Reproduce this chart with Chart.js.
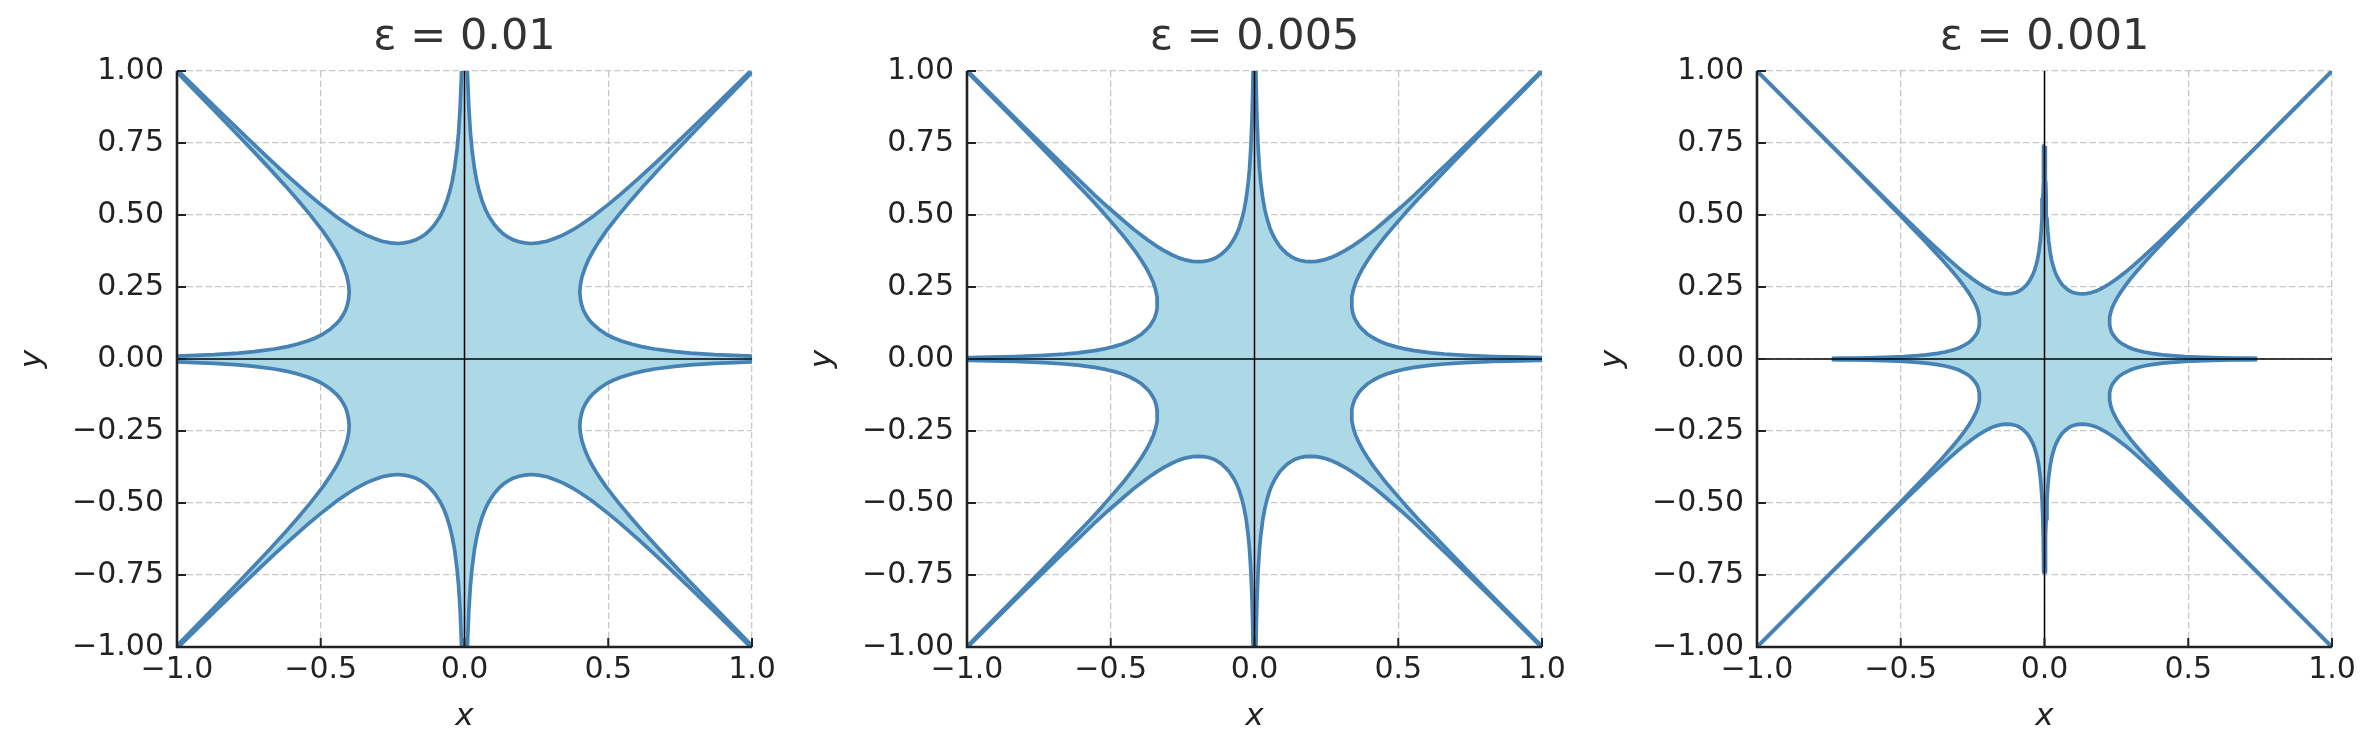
<!DOCTYPE html>
<html><head><meta charset="utf-8">
<script src="https://cdn.jsdelivr.net/npm/chart.js@4.4.1/dist/chart.umd.min.js"></script>
<style>
html,body{margin:0;padding:0;background:#fff;width:2379px;height:754px;overflow:hidden;}
canvas{position:absolute;top:0;}
</style></head><body>
<canvas id="c1" width="790" height="754" style="left:0px"></canvas>
<canvas id="c2" width="790" height="754" style="left:790px"></canvas>
<canvas id="c3" width="790" height="754" style="left:1580px"></canvas>
<script>
// ---- data ----
const panelTitles = ['ε = 0.01', 'ε = 0.005', 'ε = 0.001'];
const xTickValues = [-1, -0.5, 0, 0.5, 1];
const xTickLabels = ['−1.0', '−0.5', '0.0', '0.5', '1.0'];
const yTickValues = [-1, -0.75, -0.5, -0.25, 0, 0.25, 0.5, 0.75, 1];
const yTickLabels = ['−1.00', '−0.75', '−0.50', '−0.25', '0.00', '0.25', '0.50', '0.75', '1.00'];

// one boundary branch per panel (first octant lobe, from the x-axis arm to the diagonal arm);
// the other seven branches are its mirror images in the picture.
const eps010X = [1.000, 0.870, 0.786, 0.732, 0.661, 0.616, 0.583, 0.546, 0.519, 0.492, 0.467, 0.448, 0.433, 0.422, 0.413, 0.407, 0.403, 0.401, 0.403, 0.409, 0.419, 0.430, 0.448, 0.466, 0.492, 0.536, 0.571, 0.626, 0.681, 0.738, 0.805, 0.874, 0.991, 1.000];
const eps010Y = [0.0100, 0.0152, 0.0206, 0.0256, 0.0347, 0.0431, 0.0510, 0.0622, 0.0729, 0.0867, 0.1035, 0.1200, 0.1366, 0.1535, 0.1711, 0.1897, 0.2097, 0.2318, 0.2569, 0.2865, 0.3155, 0.3421, 0.3759, 0.4049, 0.4432, 0.4994, 0.5414, 0.6045, 0.6645, 0.7252, 0.7950, 0.8662, 0.9860, 0.9950];

const eps005X = [1.000, 0.989, 0.920, 0.831, 0.732, 0.661, 0.615, 0.556, 0.518, 0.490, 0.459, 0.436, 0.414, 0.392, 0.377, 0.364, 0.355, 0.347, 0.342, 0.339, 0.338, 0.339, 0.344, 0.352, 0.362, 0.377, 0.392, 0.414, 0.450, 0.480, 0.526, 0.572, 0.621, 0.677, 0.735, 0.833, 0.922, 1.000];
const eps005Y = [0.0050, 0.0052, 0.0064, 0.0087, 0.0128, 0.0173, 0.0215, 0.0291, 0.0362, 0.0429, 0.0523, 0.0613, 0.0729, 0.0870, 0.1009, 0.1149, 0.1291, 0.1439, 0.1595, 0.1764, 0.1949, 0.2160, 0.2409, 0.2653, 0.2877, 0.3161, 0.3405, 0.3727, 0.4199, 0.4553, 0.5083, 0.5588, 0.6098, 0.6685, 0.7284, 0.8291, 0.9183, 0.9975];

const eps001X = [0.740, 0.714, 0.661, 0.615, 0.556, 0.489, 0.442, 0.411, 0.372, 0.346, 0.328, 0.307, 0.292, 0.277, 0.262, 0.252, 0.244, 0.237, 0.232, 0.229, 0.227, 0.226, 0.227, 0.230, 0.235, 0.242, 0.252, 0.262, 0.277, 0.301, 0.321, 0.352, 0.383, 0.415, 0.453, 0.491, 0.557, 0.616, 0.673, 0.732, 0.832, 0.920, 1.000];
const eps001Y = [0.0025, 0.0027, 0.0035, 0.0043, 0.0058, 0.0085, 0.0116, 0.0144, 0.0195, 0.0242, 0.0287, 0.0350, 0.0410, 0.0488, 0.0582, 0.0675, 0.0768, 0.0863, 0.0962, 0.1067, 0.1179, 0.1303, 0.1444, 0.1611, 0.1774, 0.1924, 0.2114, 0.2277, 0.2492, 0.2808, 0.3045, 0.3399, 0.3737, 0.4078, 0.4471, 0.4871, 0.5544, 0.6141, 0.6718, 0.7310, 0.8308, 0.9196, 0.9995];

const panelBranchX = [eps010X, eps005X, eps001X];
const panelBranchY = [eps010Y, eps005Y, eps001Y];

// ---- styling ----
const LINE = '#4682b4';
const FILL = '#add8e6';
const TEXT = '#222222';
Chart.defaults.font.family = 'DejaVu Sans';

function rotate(p, k) {
  let x = p.x, y = p.y;
  for (let i = 0; i < k; i++) { const t = x; x = -y; y = t; }
  return {x, y};
}

function buildBranches(bx, by) {
  const a = bx.map((x, i) => ({x, y: by[i]}));
  const b = a.slice().reverse().map(p => ({x: p.y, y: p.x}));
  const branches = [];
  for (let k = 0; k < 4; k++) {
    branches.push(a.map(p => rotate(p, k)));
    branches.push(b.map(p => rotate(p, k)));
  }
  return branches;
}

const frame = {
  id: 'frame',
  afterDraw(chart) {
    const {ctx, chartArea: a, scales} = chart;
    ctx.save();
    ctx.strokeStyle = TEXT;
    ctx.lineWidth = 2;
    ctx.beginPath();
    xTickValues.forEach(v => {
      const px = scales.x.getPixelForValue(v);
      ctx.moveTo(px, a.bottom); ctx.lineTo(px, a.bottom - 9);
    });
    yTickValues.forEach(v => {
      const py = scales.y.getPixelForValue(v);
      ctx.moveTo(a.left, py); ctx.lineTo(a.left + 9, py);
    });
    ctx.stroke();
    ctx.lineWidth = 2.6;
    ctx.beginPath();
    ctx.moveTo(a.left, a.top); ctx.lineTo(a.left, a.bottom + 1.3);
    ctx.moveTo(a.left - 1.3, a.bottom); ctx.lineTo(a.right, a.bottom);
    ctx.stroke();
    ctx.restore();
  }
};

function makeChart(id, idx) {
  const branches = buildBranches(panelBranchX[idx], panelBranchY[idx]);
  const polygon = [].concat(...branches);
  const datasets = [
    {data: [{x: -1, y: 0}, {x: 1, y: 0}], showLine: true, borderColor: '#000', borderWidth: 1.5, pointRadius: 0, order: 0, clip: 0},
    {data: [{x: 0, y: -1}, {x: 0, y: 1}], showLine: true, borderColor: '#000', borderWidth: 1.5, pointRadius: 0, order: 0, clip: 0},
  ];
  branches.forEach(br => datasets.push({
    data: br, showLine: true, borderColor: LINE, borderWidth: 3.7, pointRadius: 0,
    borderJoinStyle: 'round', borderCapStyle: 'butt', fill: false, order: 1, clip: 0
  }));
  datasets.push({
    data: polygon, showLine: true, borderWidth: 0, borderColor: 'rgba(0,0,0,0)',
    backgroundColor: FILL, fill: 'shape', pointRadius: 0, order: 2, clip: 0
  });

  const gridCommon = {color: '#c8c8c8', lineWidth: 1.3, drawTicks: false};
  return new Chart(document.getElementById(id), {
    type: 'scatter',
    data: {datasets},
    plugins: [frame],
    options: {
      responsive: false, animation: false, devicePixelRatio: 1,
      layout: {padding: {left: 0, right: 38, top: 0, bottom: 0}},
      plugins: {
        legend: {display: false}, tooltip: {enabled: false},
        title: {display: true, text: panelTitles[idx], fullSize: false, color: '#333333',
          font: {size: 43, weight: 'normal'}, padding: {top: 12, bottom: 7.4}}
      },
      scales: {
        x: {
          type: 'linear', position: 'bottom', min: -1, max: 1,
          afterBuildTicks(s) { s.ticks = xTickValues.map(v => ({value: v})); },
          afterFit(s) { s.height = 107; },
          grid: gridCommon,
          border: {display: false, dash: [6.5, 3]},
          ticks: {color: TEXT, font: {size: 30}, padding: 5, maxRotation: 0,
            callback: (v, i) => xTickLabels[i]},
          title: {display: true, text: 'x', color: TEXT, font: {size: 31, style: 'italic'},
            padding: {top: 0, bottom: 18}}
        },
        y: {
          type: 'linear', position: 'left', min: -1, max: 1,
          afterBuildTicks(s) { s.ticks = yTickValues.map(v => ({value: v})); },
          afterFit(s) { s.width = 177; },
          grid: gridCommon,
          border: {display: false, dash: [6.5, 3]},
          ticks: {color: TEXT, font: {size: 30}, padding: 13,
            callback: (v, i) => yTickLabels[i]},
          title: {display: true, text: 'y', color: TEXT, font: {size: 31, style: 'italic'},
            padding: {top: 14, bottom: 0}}
        }
      }
    }
  });
}

makeChart('c1', 0);
makeChart('c2', 1);
makeChart('c3', 2);
</script>
</body></html>
